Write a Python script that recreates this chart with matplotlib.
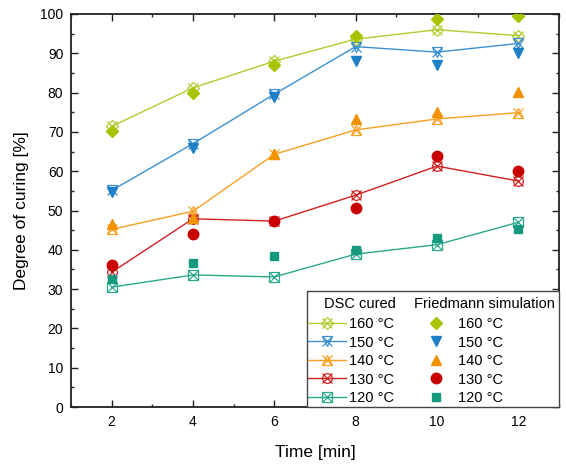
import matplotlib
matplotlib.use('Agg')
import matplotlib.pyplot as plt
from matplotlib.patches import Rectangle
from matplotlib.legend_handler import HandlerTuple
from matplotlib.ticker import MultipleLocator

plt.rcParams['font.family'] = ['Liberation Sans', 'DejaVu Sans']

# data
time = [2, 4, 6, 8, 10, 12]
temps = ['160 °C', '150 °C', '140 °C', '130 °C', '120 °C']

dsc_160 = [71.4, 81.2, 88.0, 93.6, 96.0, 94.5]
dsc_150 = [55.1, 67.0, 79.6, 91.7, 90.3, 92.5]
dsc_140 = [45.2, 49.8, 64.3, 70.5, 73.3, 74.9]
dsc_130 = [34.3, 47.9, 47.3, 53.9, 61.3, 57.5]
dsc_120 = [30.5, 33.6, 33.1, 38.9, 41.3, 47.0]

sim_160 = [70.2, 79.9, 86.9, 94.5, 98.6, 99.5]
sim_150 = [54.8, 65.8, 79.0, 88.0, 87.0, 90.0]
sim_140 = [46.6, 48.2, 64.4, 73.2, 75.1, 80.2]
sim_130 = [36.1, 44.1, 47.3, 50.7, 63.9, 60.1]
sim_120 = [32.6, 36.6, 38.4, 39.9, 42.9, 45.2]

dsc = [dsc_160, dsc_150, dsc_140, dsc_130, dsc_120]
sim = [sim_160, sim_150, sim_140, sim_130, sim_120]

colors = ['#a8c400', '#1e80c6', '#f39200', '#c80000', '#17997f']
line_colors = ['#b4cc30', '#3a90d0', '#f5a020', '#d02020', '#2aa88c']
markers = ['D', 'v', '^', 'o', 's']
open_sizes = [6, 7.5, 7.5, 7, 6.5]
fill_sizes = [6.5, 7.5, 7.5, 7.5, 6]

fig = plt.figure(figsize=(5.66, 4.65), dpi=100)
ax = fig.add_axes([0.1254, 0.1247, 0.8622, 0.8452])

dsc_handles = []
sim_handles = []
for i in range(5):
    # DSC points: open shape with an x on top, joined by a line
    l1, = ax.plot(time, dsc[i], color=line_colors[i], lw=1.0, marker=markers[i],
                  ms=open_sizes[i], mfc='none', mec=line_colors[i], mew=0.9, zorder=3)
    l2, = ax.plot(time, dsc[i], ls='none', marker='x', ms=7, mec=line_colors[i],
                  mew=0.9, zorder=3)
    s, = ax.plot(time, sim[i], ls='none', marker=markers[i], ms=fill_sizes[i],
                 color=colors[i], mec=colors[i], zorder=4)
    dsc_handles.append((l1, l2))
    sim_handles.append(s)

ax.set_xlim(1, 13)
ax.set_ylim(0, 100)
ax.xaxis.set_major_locator(MultipleLocator(2))
ax.xaxis.set_minor_locator(MultipleLocator(1))
ax.yaxis.set_major_locator(MultipleLocator(10))
ax.yaxis.set_minor_locator(MultipleLocator(5))
ax.tick_params(which='both', direction='in', top=True, right=True, labelsize=10,
               width=1.0, color='#222222')
ax.tick_params(which='major', length=5, pad=5.5)
ax.tick_params(which='minor', length=2.5)
for sp in ax.spines.values():
    sp.set_linewidth(1.3)
    sp.set_color('#222222')

ax.set_xlabel('Time [min]', fontsize=12.5, labelpad=12)
ax.set_ylabel('Degree of curing [%]', fontsize=12.5, labelpad=8)

# legend box in the lower right corner, frame drawn separately
box = Rectangle((0.4836, 0), 0.5164, 0.295, transform=ax.transAxes, fc='white',
                ec='#444444', lw=1.0, zorder=5, clip_on=False)
ax.add_patch(box)

handles = dsc_handles + sim_handles
labels = temps + temps
leg = ax.legend(handles, labels, ncol=2, loc='upper left',
                bbox_to_anchor=(0.4857, 0.229), borderaxespad=0, borderpad=0,
                fontsize=10.5, frameon=False,
                handlelength=2.6, handletextpad=0.2, columnspacing=1.6,
                labelspacing=0.31, numpoints=1,
                handler_map={tuple: HandlerTuple(ndivide=1, pad=0)})
leg.set_zorder(6)

ax.text(0.592, 0.262, 'DSC cured', transform=ax.transAxes, ha='center',
        va='center', fontsize=10.5, zorder=6)
ax.text(0.848, 0.262, 'Friedmann simulation', transform=ax.transAxes, ha='center',
        va='center', fontsize=10.5, zorder=6)

fig.savefig('out.png', dpi=100)
